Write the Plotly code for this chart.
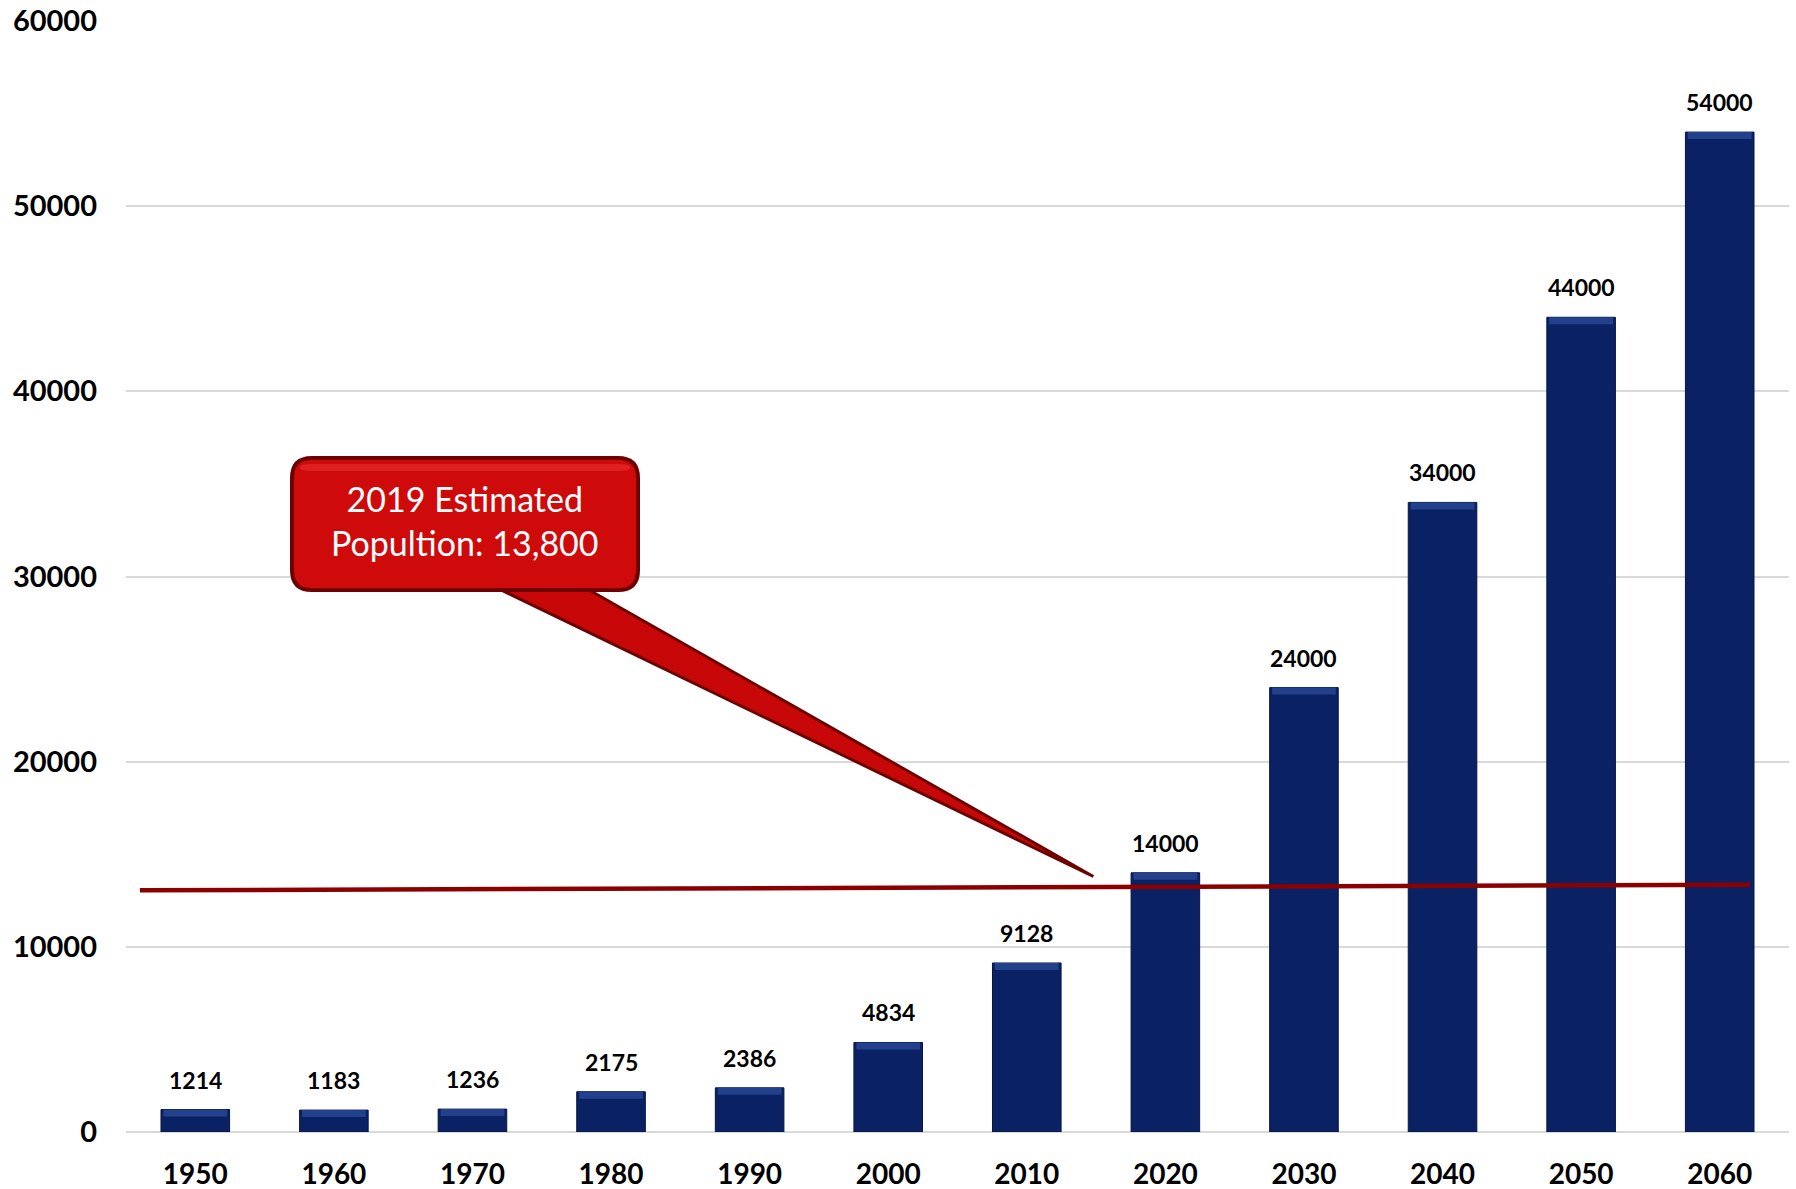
import plotly.graph_objects as go

# Population by decade (historic counts and projections)
years = [1950, 1960, 1970, 1980, 1990, 2000, 2010, 2020, 2030, 2040, 2050, 2060]
population = [1214, 1183, 1236, 2175, 2386, 4834, 9128, 14000, 24000, 34000, 44000, 54000]
tick_values = [0, 10000, 20000, 30000, 40000, 50000, 60000]

# 2019 estimate callout and its reference line
estimate_year = 2014.8
estimate_value = 13800
ref_line_x = [1946.0, 2062.2]
ref_line_y = [13050, 13350]

W, H = 1796, 1189
M_L, M_R, M_T, M_B = 126, 7, 21, 57
X_MIN, X_MAX = 1945, 2065
Y_MAX = 60000

plot_w = W - M_L - M_R
plot_h = H - M_T - M_B


def px_x(px):
    return X_MIN + (px - M_L) / plot_w * (X_MAX - X_MIN)


def px_y(py):
    return (M_T + plot_h - py) / plot_h * Y_MAX


def units_h(pixels):
    return pixels / plot_h * Y_MAX


def units_w(pixels):
    return pixels / plot_w * (X_MAX - X_MIN)


BAR = "#0a2263"
BEVEL = "#22408c"
bevel_h = units_h(7)

fig = go.Figure()

fig.add_trace(go.Bar(
    x=years, y=population, width=4.95,
    marker=dict(color=BAR, line=dict(color="#06163f", width=1)),
    hoverinfo="x+y",
))
# lighter bevel strip along each bar top
bevel = [min(bevel_h, v * 0.45) for v in population]
fig.add_trace(go.Bar(
    x=years, y=bevel,
    base=[v - b for v, b in zip(population, bevel)],
    width=4.6,
    marker=dict(color=BEVEL, line=dict(width=0)),
    hoverinfo="skip",
))

# reference line near the 2019 estimate
fig.add_trace(go.Scatter(
    x=ref_line_x, y=ref_line_y, mode="lines",
    line=dict(color="#8c0000", width=4.5), hoverinfo="skip",
))

# value labels above bars
for yr, v in zip(years, population):
    fig.add_annotation(
        x=yr, y=v, text=f"<b>{v}</b>", showarrow=False,
        yanchor="bottom", yshift=14,
        font=dict(family="Lato", size=23, color="#000000"),
    )

# callout: rounded box + pointer
bx0, bx1 = px_x(292), px_x(638)
by_top, by_bot = px_y(458), px_y(590)
rx, ry = units_w(20), units_h(20)


def rounded_rect(x0, x1, y0, y1, rx, ry):
    return (
        f"M {x0 + rx},{y1} L {x1 - rx},{y1} Q {x1},{y1} {x1},{y1 - ry} "
        f"L {x1},{y0 + ry} Q {x1},{y0} {x1 - rx},{y0} "
        f"L {x0 + rx},{y0} Q {x0},{y0} {x0},{y0 + ry} "
        f"L {x0},{y1 - ry} Q {x0},{y1} {x0 + rx},{y1} Z"
    )


pointer = (
    f"M {px_x(493)},{px_y(586)} L {px_x(582)},{px_y(586)} "
    f"L {estimate_year},{estimate_value} Z"
)
fig.add_shape(type="path", path=pointer, xref="x", yref="y",
              fillcolor="#c80808", line=dict(color="#6e0000", width=3))
fig.add_shape(type="path", path=rounded_rect(bx0, bx1, by_bot, by_top, rx, ry),
              xref="x", yref="y",
              fillcolor="#cf0a0a", line=dict(color="#6e0000", width=4))
# inner highlight band
fig.add_shape(type="path",
              path=rounded_rect(bx0 + units_w(8), bx1 - units_w(8),
                                by_top - units_h(13), by_top - units_h(6),
                                units_w(10), units_h(3)),
              xref="x", yref="y", fillcolor="#df2020", line=dict(width=0))

fig.add_annotation(
    x=(bx0 + bx1) / 2, y=(by_top + by_bot) / 2 + units_h(4),
    text="2019 Estimated<br>Popultion: 13,800", showarrow=False,
    font=dict(family="Lato", size=34, color="#ffffff"),
    align="center", xanchor="center", yanchor="middle",
)

fig.update_layout(
    width=W, height=H,
    margin=dict(l=M_L, r=M_R, t=M_T, b=M_B),
    paper_bgcolor="#ffffff", plot_bgcolor="#ffffff",
    barmode="overlay", showlegend=False,
    font=dict(family="Lato", color="#000000"),
)
fig.update_xaxes(
    range=[X_MIN, X_MAX], tickvals=years, ticktext=[f"<b>{y}</b>" for y in years],
    showgrid=False, zeroline=False, showline=False, ticks="",
    tickfont=dict(family="Lato", size=28, color="#000000"),
    ticklabelstandoff=23, automargin=False,
)
fig.update_yaxes(
    range=[0, Y_MAX], tickvals=tick_values,
    ticktext=[f"<b>{t}</b>" for t in tick_values],
    showgrid=True, gridcolor="#d9d9d9", gridwidth=1.5,
    zeroline=True, zerolinecolor="#d9d9d9", zerolinewidth=2,
    showline=False, ticks="",
    tickfont=dict(family="Lato", size=29, color="#000000"),
    ticklabelstandoff=28, automargin=False,
)

fig.write_html("out.html")
